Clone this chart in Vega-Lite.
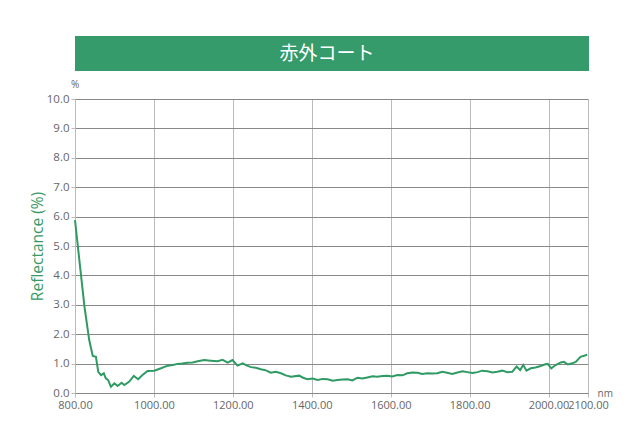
{
  "$schema": "https://vega.github.io/schema/vega-lite/v6.json",
  "background": "white",
  "padding": {"left": 30, "top": 36, "right": 5, "bottom": 5},
  "bounds": "flush",
  "spacing": 28,
  "config": {
    "font": "Open Sans",
    "view": {"stroke": null},
    "axis": {"labelFont": "Open Sans", "titleFont": "Open Sans"}
  },
  "vconcat": [
    {
      "width": 514,
      "height": 35,
      "view": {"fill": "#369b6b", "stroke": null},
      "data": {"values": [{"label": "赤外コート"}]},
      "mark": {"type": "text", "color": "white", "fontSize": 19, "font": "Noto Sans CJK JP", "baseline": "middle", "align": "center", "dx": -5},
      "encoding": {"text": {"field": "label", "type": "nominal"}}
    },
    {
      "width": 513,
      "height": 294,
      "title": {"text": "%", "anchor": "start", "frame": "group", "fontSize": 10, "fontWeight": "normal", "color": "#666666", "dx": -4, "offset": 3, "font": "Open Sans"},
      "data": {"values": [
        {"nm": 800, "r": 5.88}, {"nm": 812, "r": 4.4}, {"nm": 824, "r": 2.94}, {"nm": 836, "r": 1.8},
        {"nm": 845, "r": 1.26}, {"nm": 853, "r": 1.23}, {"nm": 859, "r": 0.72}, {"nm": 866, "r": 0.61},
        {"nm": 873, "r": 0.67}, {"nm": 878, "r": 0.5}, {"nm": 884, "r": 0.44}, {"nm": 891, "r": 0.21},
        {"nm": 900, "r": 0.33}, {"nm": 908, "r": 0.24}, {"nm": 918, "r": 0.35}, {"nm": 925, "r": 0.27},
        {"nm": 937, "r": 0.38}, {"nm": 949, "r": 0.58}, {"nm": 960, "r": 0.47}, {"nm": 971, "r": 0.61},
        {"nm": 984, "r": 0.75}, {"nm": 1001, "r": 0.76}, {"nm": 1018, "r": 0.84}, {"nm": 1035, "r": 0.93},
        {"nm": 1048, "r": 0.95}, {"nm": 1060, "r": 0.99}, {"nm": 1072, "r": 1.0}, {"nm": 1085, "r": 1.03},
        {"nm": 1098, "r": 1.04}, {"nm": 1111, "r": 1.08}, {"nm": 1127, "r": 1.12},
        {"nm": 1144, "r": 1.1}, {"nm": 1161, "r": 1.08}, {"nm": 1174, "r": 1.13}, {"nm": 1187, "r": 1.03},
        {"nm": 1199, "r": 1.12}, {"nm": 1212, "r": 0.93}, {"nm": 1225, "r": 1.01}, {"nm": 1236, "r": 0.93}, {"nm": 1246, "r": 0.88},
        {"nm": 1258, "r": 0.86}, {"nm": 1271, "r": 0.81}, {"nm": 1284, "r": 0.77}, {"nm": 1296, "r": 0.69}, {"nm": 1309, "r": 0.72}, {"nm": 1322, "r": 0.67}, {"nm": 1334, "r": 0.6}, {"nm": 1347, "r": 0.55},
        {"nm": 1368, "r": 0.59}, {"nm": 1378, "r": 0.52}, {"nm": 1389, "r": 0.47}, {"nm": 1402, "r": 0.49}, {"nm": 1415, "r": 0.44}, {"nm": 1428, "r": 0.48}, {"nm": 1440, "r": 0.47},
        {"nm": 1453, "r": 0.42}, {"nm": 1465, "r": 0.44}, {"nm": 1478, "r": 0.46}, {"nm": 1491, "r": 0.47}, {"nm": 1503, "r": 0.43}, {"nm": 1516, "r": 0.52}, {"nm": 1528, "r": 0.49}, {"nm": 1541, "r": 0.53},
        {"nm": 1554, "r": 0.57}, {"nm": 1566, "r": 0.55}, {"nm": 1579, "r": 0.58}, {"nm": 1592, "r": 0.59}, {"nm": 1604, "r": 0.56}, {"nm": 1617, "r": 0.61}, {"nm": 1630, "r": 0.6}, {"nm": 1642, "r": 0.67},
        {"nm": 1655, "r": 0.7}, {"nm": 1668, "r": 0.69}, {"nm": 1680, "r": 0.65}, {"nm": 1693, "r": 0.67}, {"nm": 1705, "r": 0.66}, {"nm": 1718, "r": 0.67}, {"nm": 1731, "r": 0.72}, {"nm": 1743, "r": 0.69},
        {"nm": 1756, "r": 0.65}, {"nm": 1769, "r": 0.7}, {"nm": 1782, "r": 0.74}, {"nm": 1794, "r": 0.71}, {"nm": 1807, "r": 0.68}, {"nm": 1820, "r": 0.71}, {"nm": 1832, "r": 0.76}, {"nm": 1845, "r": 0.74},
        {"nm": 1858, "r": 0.7}, {"nm": 1870, "r": 0.72}, {"nm": 1883, "r": 0.76}, {"nm": 1896, "r": 0.71}, {"nm": 1908, "r": 0.72}, {"nm": 1919, "r": 0.9},
        {"nm": 1928, "r": 0.78}, {"nm": 1936, "r": 0.95}, {"nm": 1944, "r": 0.76}, {"nm": 1955, "r": 0.84},
        {"nm": 1967, "r": 0.87}, {"nm": 1980, "r": 0.92}, {"nm": 1990, "r": 0.97}, {"nm": 1998, "r": 0.99},
        {"nm": 2007, "r": 0.84}, {"nm": 2018, "r": 0.95}, {"nm": 2031, "r": 1.04}, {"nm": 2039, "r": 1.06},
        {"nm": 2049, "r": 0.97}, {"nm": 2060, "r": 1.01}, {"nm": 2069, "r": 1.06}, {"nm": 2081, "r": 1.23},
        {"nm": 2098, "r": 1.3}
      ]},
      "mark": {"type": "line", "color": "#2f9a63", "strokeWidth": 2},
      "encoding": {
        "x": {
          "field": "nm", "type": "quantitative",
          "scale": {"domain": [800, 2100], "nice": false, "zero": false},
          "axis": {
            "values": [800, 1000, 1200, 1400, 1600, 1800, 2000, 2100],
            "format": ".2f",
            "labelOverlap": false, "labelBound": false, "labelFlush": false,
            "title": "nm",
            "titleX": 522, "titleY": 0, "titleAlign": "left", "titleBaseline": "middle",
            "titleFontSize": 10, "titleFontWeight": "normal", "titleColor": "#666666",
            "labelFontSize": 11, "labelColor": "#666666", "labelPadding": 2,
            "gridColor": "#bbbbbb", "gridWidth": 1,
            "domainColor": "#888888", "tickColor": "#bbbbbb", "tickSize": 4
          }
        },
        "y": {
          "field": "r", "type": "quantitative",
          "scale": {"domain": [0, 10], "nice": false},
          "axis": {
            "values": [0, 1, 2, 3, 4, 5, 6, 7, 8, 9, 10],
            "format": ".1f",
            "title": "Reflectance (%)",
            "titleColor": "#3a9a66", "titleFontSize": 15.5, "titleFontWeight": "normal", "titlePadding": 1,
            "labelFontSize": 11.5, "labelColor": "#666666", "labelPadding": 2,
            "gridColor": "#888888", "gridWidth": 1,
            "domainColor": "#bbbbbb", "tickColor": "#bbbbbb", "tickSize": 4
          }
        }
      }
    }
  ]
}
